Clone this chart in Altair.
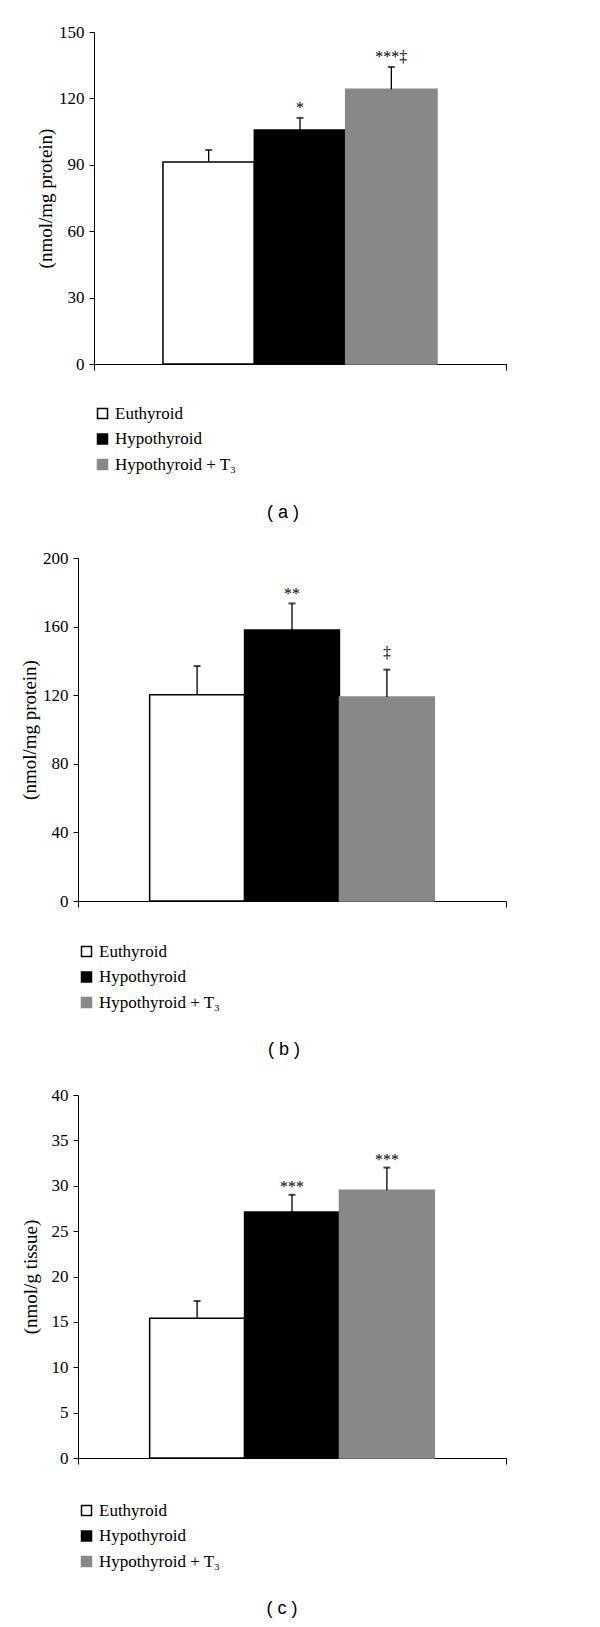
import altair as alt
import pandas as pd

groups = ["Euthyroid", "Hypothyroid", "Hypothyroid + T\u2083"]
colors_fill = ["#ffffff", "#000000", "#888888"]
colors_stroke = ["#000000", "#000000", "#888888"]

a_mean = [91.3, 105.7, 124.1]
a_err = [5.4, 5.5, 10.1]
a_sig = ["", "*", "***\u2021"]

b_mean = [120.3, 158.0, 119.0]
b_err = [16.7, 15.5, 15.9]
b_sig = ["", "**", "\u2021"]

c_mean = [15.4, 27.1, 29.5]
c_err = [1.9, 1.9, 2.5]
c_sig = ["", "***", "***"]

captions = ["( a )", "( b )", "( c )"]
y_titles = ["(nmol/mg protein)", "(nmol/mg protein)", "(nmol/g tissue)"]
y_max = [150, 200, 40]
y_step = [30, 40, 5]

SERIF = "Liberation Serif"
SANS = "Liberation Sans"
W = 428
DAGGER = "\u2021"


def panel(mean, err, sig, ymax, step, ytitle, caption, x_off, height,
          leg_y, cap_x, cap_y, title_pad, star_dy):
    df = pd.DataFrame({
        "group": groups,
        "mean": mean,
        "err": err,
        "sig": sig,
    })
    df["top"] = df["mean"] + df["err"]

    xband = alt.X("group:N", sort=groups,
                  scale=alt.Scale(type="band", domain=groups, paddingInner=0,
                                  paddingOuter=0.755, range=[x_off, W]),
                  axis=None)
    yscale = alt.Scale(domain=[0, ymax], nice=False, zero=True)
    yaxis = alt.Axis(values=list(range(0, ymax + 1, step)), title=ytitle, grid=False,
                     offset=-x_off,
                     tickSize=5, tickColor="black", domainColor="black",
                     labelFont=SERIF, labelFontSize=17, labelColor="black",
                     labelPadding=5, titleFont=SERIF, titleFontSize=19,
                     titleFontWeight="normal", titleColor="black",
                     titlePadding=title_pad)

    base = alt.Chart(df)

    xaxis_layer = base.mark_point(opacity=0).encode(
        x=alt.XDatum(0, type="quantitative",
                     scale=alt.Scale(domain=[0, 1], range=[x_off, W]),
                     axis=alt.Axis(values=[0, 1], labels=False, tickSize=6,
                                   tickColor="black", domainColor="black",
                                   grid=False, title=None, orient="bottom")),
        y=alt.Y("mean:Q", scale=yscale, axis=yaxis),
    )

    legend = alt.Legend(title=None, orient="none", legendX=x_off, legendY=leg_y,
                        symbolType="square", symbolSize=100, symbolStrokeWidth=1.5,
                        labelFont=SERIF, labelFontSize=17, labelColor="black",
                        labelOffset=4, rowPadding=7.5)

    bars = base.mark_bar(strokeWidth=1.5).encode(
        x=xband,
        y=alt.Y("mean:Q", scale=yscale),
        fill=alt.Fill("group:N", sort=groups,
                      scale=alt.Scale(domain=groups, range=colors_fill), legend=legend),
        stroke=alt.Stroke("group:N", sort=groups,
                          scale=alt.Scale(domain=groups, range=colors_stroke), legend=legend),
    )

    rules = base.mark_rule(color="black", strokeWidth=1.3).encode(
        x=xband, y=alt.Y("mean:Q", scale=yscale), y2="top:Q")
    caps = base.mark_tick(color="black", size=7, thickness=2, orient="horizontal").encode(
        x=xband, y=alt.Y("top:Q", scale=yscale))
    stars = base.transform_filter(alt.datum.sig != DAGGER).mark_text(
        font=SERIF, fontSize=16, baseline="alphabetic", dy=star_dy,
        align="center", fill="black").encode(
        x=xband, y=alt.Y("top:Q", scale=yscale), text="sig:N")
    daggers = base.transform_filter(alt.datum.sig == DAGGER).mark_text(
        font=SERIF, fontSize=16, baseline="alphabetic", dy=-12,
        align="center", fill="black").encode(
        x=xband, y=alt.Y("top:Q", scale=yscale), text="sig:N")

    cap = alt.Chart(pd.DataFrame({"c": [caption]})).mark_text(
        font=SANS, fontSize=18, baseline="middle", align="center", fill="black").encode(
        x=alt.value(cap_x), y=alt.value(cap_y), text="c:N")

    return alt.layer(xaxis_layer, bars, rules, caps, stars, daggers, cap).resolve_scale(
        x="independent").properties(width=W, height=height)


pa = panel(a_mean, a_err, a_sig, y_max[0], y_step[0], y_titles[0], captions[0],
           16, 332, 373, 205, 481, 3, -5)
pb = panel(b_mean, b_err, b_sig, y_max[1], y_step[1], y_titles[1], captions[1],
           0, 343, 385, 206, 492, 3, -4)
pc = panel(c_mean, c_err, c_sig, y_max[2], y_step[2], y_titles[2], captions[2],
           0, 363, 407, 204, 514, 11, -3)

chart = alt.vconcat(pa, pb, pc, spacing=194, bounds="flush").resolve_scale(
    fill="independent", stroke="independent"
).properties(
    padding={"left": 12, "top": 15, "right": 5, "bottom": 5},
    background="white",
).configure_view(stroke=None)

chart.save("out.html", embed_options={"renderer": "svg", "actions": False})
